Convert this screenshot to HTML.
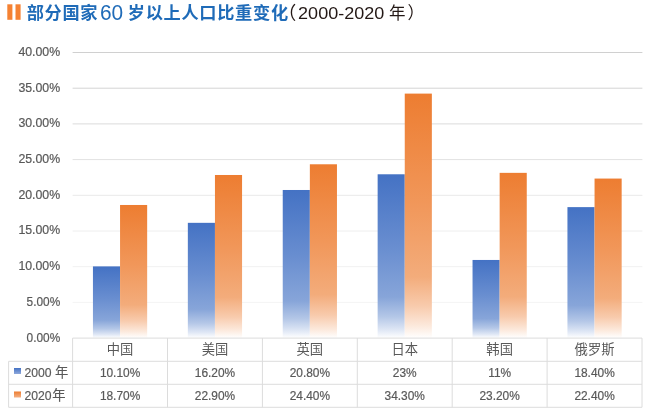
<!DOCTYPE html>
<html lang="zh"><head><meta charset="utf-8"><title>部分国家60岁以上人口比重变化</title>
<style>
html,body{margin:0;padding:0;background:#fff;}
body{width:650px;height:414px;overflow:hidden;}
svg{display:block;}
text{font-family:"Liberation Sans","Noto Sans CJK SC",sans-serif;}
.ax{fill:#595959;}
.n{font-size:11.9px;stroke:#595959;stroke-width:0.2px;}
.cj{font-family:"Liberation Sans","Noto Sans CJK SC",sans-serif;}
</style></head><body>
<svg width="650" height="414" viewBox="0 0 650 414">
<defs>
<linearGradient id="gb" x1="0" y1="0" x2="0" y2="1"><stop offset="0" stop-color="#4472c4"/><stop offset="0.45" stop-color="#698ed0"/><stop offset="0.75" stop-color="#87a5d9"/><stop offset="0.87" stop-color="#b4c7e7"/><stop offset="0.95" stop-color="#dfe7f5"/><stop offset="1" stop-color="#ffffff"/></linearGradient>
<linearGradient id="go" x1="0" y1="0" x2="0" y2="1"><stop offset="0" stop-color="#ed7d31"/><stop offset="0.45" stop-color="#f1975a"/><stop offset="0.75" stop-color="#f3ac7b"/><stop offset="0.87" stop-color="#f8cbad"/><stop offset="0.95" stop-color="#fce9dc"/><stop offset="1" stop-color="#ffffff"/></linearGradient>
<linearGradient id="gb2" x1="0" y1="0" x2="0" y2="1"><stop offset="0" stop-color="#4472c4"/><stop offset="1" stop-color="#8fa9dc"/></linearGradient>
<linearGradient id="go2" x1="0" y1="0" x2="0" y2="1"><stop offset="0" stop-color="#ed7d31"/><stop offset="1" stop-color="#f4b083"/></linearGradient>
</defs>
<rect width="650" height="414" fill="#fff"/>

<rect x="7.3" y="4.3" width="5.1" height="15.5" fill="#f58233"/><rect x="15.5" y="4.3" width="5.1" height="15.5" fill="#f58233"/>
<text class="cj" x="26.7" y="19.3" font-size="17.2" letter-spacing="0.7" font-weight="700" fill="#1f6bb8">部分国家</text>
<text x="100" y="20.2" font-size="22.4" fill="#1f6bb8" textLength="23.2" lengthAdjust="spacingAndGlyphs">60</text>
<text class="cj" x="127.8" y="19.3" font-size="17.2" letter-spacing="0.7" font-weight="700" fill="#1f6bb8">岁以上人口比重变化</text>
<text class="cj" x="278.2" y="19.3" font-size="18" fill="#231815">（</text>
<text x="298.1" y="18.6" font-size="17.4" fill="#231815" textLength="86.2" lengthAdjust="spacingAndGlyphs">2000-2020</text>
<text class="cj" x="389" y="19" font-size="16.5" fill="#231815">年</text>
<text class="cj" x="407.5" y="19" font-size="17" fill="#231815">）</text>
<line x1="72.6" x2="642.4" y1="52.50" y2="52.50" stroke="#d0d0d0" stroke-width="1"/>
<line x1="72.6" x2="642.4" y1="88.20" y2="88.20" stroke="#d4d4d4" stroke-width="1"/>
<line x1="72.6" x2="642.4" y1="123.90" y2="123.90" stroke="#dbdbdb" stroke-width="1"/>
<line x1="72.6" x2="642.4" y1="159.60" y2="159.60" stroke="#e2e2e2" stroke-width="1"/>
<line x1="72.6" x2="642.4" y1="195.30" y2="195.30" stroke="#e9e9e9" stroke-width="1"/>
<line x1="72.6" x2="642.4" y1="231.00" y2="231.00" stroke="#eeeeee" stroke-width="1"/>
<line x1="72.6" x2="642.4" y1="266.70" y2="266.70" stroke="#f1f1f1" stroke-width="1"/>
<line x1="72.6" x2="642.4" y1="302.40" y2="302.40" stroke="#f4f4f4" stroke-width="1"/>
<text class="ax n" x="18.4" y="55.90" textLength="41.8" lengthAdjust="spacingAndGlyphs">40.00%</text>
<text class="ax n" x="18.4" y="91.60" textLength="41.8" lengthAdjust="spacingAndGlyphs">35.00%</text>
<text class="ax n" x="18.4" y="127.30" textLength="41.8" lengthAdjust="spacingAndGlyphs">30.00%</text>
<text class="ax n" x="18.4" y="163.00" textLength="41.8" lengthAdjust="spacingAndGlyphs">25.00%</text>
<text class="ax n" x="18.4" y="198.70" textLength="41.8" lengthAdjust="spacingAndGlyphs">20.00%</text>
<text class="ax n" x="18.4" y="234.40" textLength="41.8" lengthAdjust="spacingAndGlyphs">15.00%</text>
<text class="ax n" x="18.4" y="270.10" textLength="41.8" lengthAdjust="spacingAndGlyphs">10.00%</text>
<text class="ax n" x="26.6" y="305.80" textLength="33.6" lengthAdjust="spacingAndGlyphs">5.00%</text>
<text class="ax n" x="26.6" y="341.50" textLength="33.6" lengthAdjust="spacingAndGlyphs">0.00%</text>
<rect x="92.94" y="266.39" width="27.11" height="71.71" fill="url(#gb)"/>
<rect x="120.05" y="204.98" width="27.11" height="133.12" fill="url(#go)"/>
<rect x="187.84" y="222.83" width="27.11" height="115.27" fill="url(#gb)"/>
<rect x="214.95" y="174.99" width="27.11" height="163.11" fill="url(#go)"/>
<rect x="282.74" y="189.99" width="27.11" height="148.11" fill="url(#gb)"/>
<rect x="309.85" y="164.28" width="27.11" height="173.82" fill="url(#go)"/>
<rect x="377.64" y="174.28" width="27.11" height="163.82" fill="url(#gb)"/>
<rect x="404.75" y="93.60" width="27.11" height="244.50" fill="url(#go)"/>
<rect x="472.54" y="259.96" width="27.11" height="78.14" fill="url(#gb)"/>
<rect x="499.65" y="172.85" width="27.11" height="165.25" fill="url(#go)"/>
<rect x="567.44" y="207.12" width="27.11" height="130.98" fill="url(#gb)"/>
<rect x="594.55" y="178.56" width="27.11" height="159.54" fill="url(#go)"/>
<line x1="72.6" x2="642.0" y1="338.1" y2="338.1" stroke="#dcdcdc"/>
<line x1="8.6" x2="642.0" y1="361.3" y2="361.3" stroke="#dcdcdc"/>
<line x1="8.6" x2="642.0" y1="384.3" y2="384.3" stroke="#dcdcdc"/>
<line x1="8.6" x2="642.0" y1="407.3" y2="407.3" stroke="#dcdcdc"/>
<line x1="8.6" x2="8.6" y1="361.3" y2="407.3" stroke="#dcdcdc"/>
<line x1="72.60" x2="72.60" y1="338.1" y2="407.3" stroke="#dcdcdc"/>
<line x1="167.50" x2="167.50" y1="338.1" y2="407.3" stroke="#dcdcdc"/>
<line x1="262.40" x2="262.40" y1="338.1" y2="407.3" stroke="#dcdcdc"/>
<line x1="357.30" x2="357.30" y1="338.1" y2="407.3" stroke="#dcdcdc"/>
<line x1="452.20" x2="452.20" y1="338.1" y2="407.3" stroke="#dcdcdc"/>
<line x1="547.10" x2="547.10" y1="338.1" y2="407.3" stroke="#dcdcdc"/>
<line x1="642.00" x2="642.00" y1="338.1" y2="407.3" stroke="#dcdcdc"/>
<rect x="14" y="368" width="7" height="6" fill="url(#gb2)"/>
<rect x="14" y="391.5" width="7" height="6" fill="url(#go2)"/>
<text class="ax" x="24.5" y="376.7" style="font-size:12.2px;stroke:#595959;stroke-width:0.15px">2000 <tspan class="cj" style="font-size:13.3px">年</tspan></text>
<text class="ax" x="24.5" y="400" style="font-size:12.2px;stroke:#595959;stroke-width:0.15px">2020<tspan class="cj" dx="0.6" style="font-size:13.3px">年</tspan></text>
<text class="ax cj" x="120.05" y="354" text-anchor="middle" style="font-size:13.3px">中国</text>
<text class="ax n" x="120.05" y="376.7" text-anchor="middle">10.10%</text>
<text class="ax n" x="120.05" y="400" text-anchor="middle">18.70%</text>
<text class="ax cj" x="214.95" y="354" text-anchor="middle" style="font-size:13.3px">美国</text>
<text class="ax n" x="214.95" y="376.7" text-anchor="middle">16.20%</text>
<text class="ax n" x="214.95" y="400" text-anchor="middle">22.90%</text>
<text class="ax cj" x="309.85" y="354" text-anchor="middle" style="font-size:13.3px">英国</text>
<text class="ax n" x="309.85" y="376.7" text-anchor="middle">20.80%</text>
<text class="ax n" x="309.85" y="400" text-anchor="middle">24.40%</text>
<text class="ax cj" x="404.75" y="354" text-anchor="middle" style="font-size:13.3px">日本</text>
<text class="ax n" x="404.75" y="376.7" text-anchor="middle">23%</text>
<text class="ax n" x="404.75" y="400" text-anchor="middle">34.30%</text>
<text class="ax cj" x="499.65" y="354" text-anchor="middle" style="font-size:13.3px">韩国</text>
<text class="ax n" x="499.65" y="376.7" text-anchor="middle">11%</text>
<text class="ax n" x="499.65" y="400" text-anchor="middle">23.20%</text>
<text class="ax cj" x="594.55" y="354" text-anchor="middle" style="font-size:13.3px">俄罗斯</text>
<text class="ax n" x="594.55" y="376.7" text-anchor="middle">18.40%</text>
<text class="ax n" x="594.55" y="400" text-anchor="middle">22.40%</text>
</svg></body></html>
